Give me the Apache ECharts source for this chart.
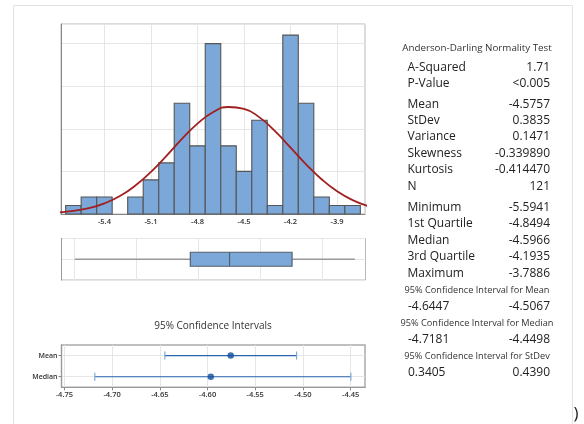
<!DOCTYPE html>
<html>
<head>
<meta charset="utf-8">
<script src="https://cdn.jsdelivr.net/npm/echarts@6/dist/echarts.min.js"></script>
<style>
html,body{margin:0;padding:0;background:#fff;}
#c{width:584px;height:424px;}
</style>
</head>
<body>
<div id="c"></div>
<script>
// ---- Data ----
const binCenters = [-5.6,-5.5,-5.4,-5.3,-5.2,-5.1,-5.0,-4.9,-4.8,-4.7,-4.6,-4.5,-4.4,-4.3,-4.2,-4.1,-4.0,-3.9,-3.8];
const binCounts  = [1,2,2,0,2,4,6,13,8,20,8,5,11,1,21,13,2,1,1];
const binWidth = 0.1;
const histTicks = [-5.4,-5.1,-4.8,-4.5,-4.2,-3.9];
// fitted normal curve
const curveX = [-5.7,-5.6,-5.5,-5.4,-5.3,-5.2,-5.1,-5.0,-4.9,-4.8,-4.7,-4.6,-4.5,-4.4,-4.3,-4.2,-4.1,-4.0,-3.9,-3.8,-3.7];
const curveY = [0.17,0.36,0.69,1.25,2.11,3.35,4.94,6.83,8.81,10.61,11.95,12.56,12.35,11.34,9.72,7.79,5.83,4.08,2.67,1.63,0.93];
// box plot: min, Q1, median, Q3, max
const boxStats = [-5.5941,-4.8494,-4.5966,-4.1935,-3.7886];
const boxGridTicks = [-5.6,-5.2,-4.8,-4.4,-4.0];
// confidence intervals
const ciNames = ['Mean','Median'];
const ciCenter = [-4.5757,-4.5966];
const ciLow = [-4.6447,-4.7181];
const ciHigh = [-4.5067,-4.4498];
const ciTicks = [-4.75,-4.70,-4.65,-4.60,-4.55,-4.50,-4.45];
// statistics table
const adTitle = 'Anderson-Darling Normality Test';
const statNames = ['A-Squared','P-Value','Mean','StDev','Variance','Skewness','Kurtosis','N','Minimum','1st Quartile','Median','3rd Quartile','Maximum'];
const statValues = ['1.71','<0.005','-4.5757','0.3835','0.1471','-0.339890','-0.414470','121','-5.5941','-4.8494','-4.5966','-4.1935','-3.7886'];
const ciTitles = ['95% Confidence Interval for Mean','95% Confidence Interval for Median','95% Confidence Interval for StDev'];
const ciTableLow = ['-4.6447','-4.7181','0.3405'];
const ciTableHigh = ['-4.5067','-4.4498','0.4390'];
const ciChartTitle = '95% Confidence Intervals';

// ---- Layout / style ----
const FONT = '"Open Sans", "Noto Sans", sans-serif';
const BLUE = '#7BA7D9';
const statY = [68, 83.5, 104.5, 120.5, 137, 153.5, 170, 186.5, 207.5, 224, 240.5, 257, 273.5];
const ciTitleY = [290, 323, 356];
const ciValY = [306.5, 339.5, 373];

const chart = echarts.init(document.getElementById('c'), null, {renderer:'canvas'});

const graphics = [];
graphics.push({type:'rect', silent:true, shape:{x:13.5, y:5.5, width:559, height:430}, style:{fill:'none', stroke:'#e2e2e2', lineWidth:1}});
graphics.push({type:'text', style:{text:adTitle, x:477, y:48, fontSize:9.8, fontFamily:FONT, fill:'#333', textAlign:'center', textVerticalAlign:'middle'}});
statNames.forEach((n,i)=>{
  graphics.push({type:'text', style:{text:n, x:407.5, y:statY[i], fontSize:12, fontFamily:FONT, fill:'#222', textVerticalAlign:'middle'}});
  graphics.push({type:'text', style:{text:statValues[i], x:550, y:statY[i], fontSize:12, fontFamily:FONT, fill:'#222', textAlign:'right', textVerticalAlign:'middle'}});
});
ciTitles.forEach((t,i)=>{
  graphics.push({type:'text', style:{text:t, x:477, y:ciTitleY[i], fontSize:9.2, fontFamily:FONT, fill:'#333', textAlign:'center', textVerticalAlign:'middle'}});
  graphics.push({type:'text', style:{text:ciTableLow[i], x:408, y:ciValY[i], fontSize:12, fontFamily:FONT, fill:'#222', textVerticalAlign:'middle'}});
  graphics.push({type:'text', style:{text:ciTableHigh[i], x:550, y:ciValY[i], fontSize:12, fontFamily:FONT, fill:'#222', textAlign:'right', textVerticalAlign:'middle'}});
});
graphics.push({type:'text', style:{text:ciChartTitle, x:213, y:326, fontSize:10, fontFamily:FONT, fill:'#333', textAlign:'center', textVerticalAlign:'middle'}});
graphics.push({type:'text', style:{text:')', x:576, y:414, fontSize:17, fontFamily:FONT, fill:'#222', textAlign:'center', textVerticalAlign:'middle'}});

const gridLine = {show:true, lineStyle:{color:'#e6e6e6', width:1}};
const tickFont = {fontSize:7.5, fontFamily:FONT, color:'#333', fontWeight:600};

const option = {
  animation:false,
  backgroundColor:'#fff',
  grid:[
    {left:61, top:24, width:304, height:190, show:true, borderColor:'#b8b8b8', borderWidth:1, backgroundColor:'#fff'},
    {left:61.5, top:238.5, width:304, height:41.5, show:true, borderColor:'#b8b8b8', borderWidth:1},
    {left:61.5, top:345, width:303.5, height:42.3, show:true, borderColor:'#aaaaaa', borderWidth:1.5}
  ],
  xAxis:[
    {gridIndex:0, type:'value', min:-5.68, max:-3.72,
     axisLine:{show:true, lineStyle:{color:'#888'}},
     axisTick:{show:false, customValues:histTicks},
     axisLabel:Object.assign({customValues:histTicks, margin:4}, tickFont),
     splitLine:gridLine},
    {gridIndex:1, type:'value', min:-5.68, max:-3.72,
     axisLine:{show:false}, axisTick:{show:false, customValues:boxGridTicks},
     axisLabel:{show:false, customValues:boxGridTicks}, splitLine:gridLine},
    {gridIndex:2, type:'value', min:-4.753, max:-4.435,
     axisLine:{show:true, lineStyle:{color:'#999'}},
     axisTick:{show:true, length:3, customValues:ciTicks, lineStyle:{color:'#888'}},
     axisLabel:Object.assign({customValues:ciTicks, margin:4, formatter:v=>v.toFixed(2)}, tickFont),
     splitLine:gridLine}
  ],
  yAxis:[
    {gridIndex:0, type:'value', min:0, max:22.3, interval:5,
     axisLine:{show:true, lineStyle:{color:'#888'}}, axisTick:{show:false}, axisLabel:{show:false}, splitLine:gridLine},
    {gridIndex:1, type:'value', min:0, max:2, interval:1,
     axisLine:{show:true, lineStyle:{color:'#999'}}, axisTick:{show:false}, axisLabel:{show:false}, splitLine:gridLine},
    {gridIndex:2, type:'value', min:0.5, max:2.5,
     axisLine:{show:true, lineStyle:{color:'#999'}},
     axisTick:{show:true, length:3, customValues:[1,2], lineStyle:{color:'#888'}},
     axisLabel:Object.assign({customValues:[1,2], margin:4, formatter:v=>ciNames[2-Math.round(v)]}, tickFont, {fontSize:7}),
     splitLine:gridLine}
  ],
  series:[
    {type:'custom', xAxisIndex:0, yAxisIndex:0,
     data: binCenters.map((c,i)=>[c, binCounts[i]]),
     renderItem:(params, api)=>{
       const x = api.value(0), n = api.value(1);
       if(!n) return null;
       const p0 = api.coord([x-binWidth/2, n]);
       const p1 = api.coord([x+binWidth/2, 0]);
       return {type:'rect', shape:{x:p0[0], y:p0[1], width:p1[0]-p0[0], height:p1[1]-p0[1]},
               style:{fill:BLUE, stroke:'#555', lineWidth:1.1}};
     }},
    {type:'line', xAxisIndex:0, yAxisIndex:0, smooth:true, symbol:'none', clip:true,
     data: curveX.map((x,i)=>[x, curveY[i]]),
     lineStyle:{color:'#A11F1F', width:1.8}},
    {type:'custom', xAxisIndex:1, yAxisIndex:1,
     data:[boxStats.concat([1])],
     renderItem:(params, api)=>{
       const y = api.coord([0, api.value(5)])[1];
       const pMin = api.coord([api.value(0), 1])[0];
       const pQ1 = api.coord([api.value(1), 1])[0];
       const pMed = api.coord([api.value(2), 1])[0];
       const pQ3 = api.coord([api.value(3), 1])[0];
       const pMax = api.coord([api.value(4), 1])[0];
       const h = 7;
       return {type:'group', children:[
         {type:'line', shape:{x1:pMin, y1:y, x2:pQ1, y2:y}, style:{stroke:'#999', lineWidth:1.3}},
         {type:'line', shape:{x1:pQ3, y1:y, x2:pMax, y2:y}, style:{stroke:'#999', lineWidth:1.3}},
         {type:'rect', shape:{x:pQ1, y:y-h, width:pQ3-pQ1, height:2*h}, style:{fill:BLUE, stroke:'#56606c', lineWidth:1.2}},
         {type:'line', shape:{x1:pMed, y1:y-h, x2:pMed, y2:y+h}, style:{stroke:'#56606c', lineWidth:1.2}}
       ]};
     }},
    {type:'custom', xAxisIndex:2, yAxisIndex:2,
     data: ciNames.map((n,i)=>[ciLow[i], ciHigh[i], 2-i]),
     renderItem:(params, api)=>{
       const a = api.coord([api.value(0), api.value(2)]);
       const b = api.coord([api.value(1), api.value(2)]);
       const c = 4;
       return {type:'group', children:[
         {type:'line', shape:{x1:a[0], y1:a[1], x2:b[0], y2:b[1]}, style:{stroke:'#2A66AE', lineWidth:1.2}},
         {type:'line', shape:{x1:a[0], y1:a[1]-c, x2:a[0], y2:a[1]+c}, style:{stroke:'#7FA8DA', lineWidth:1.2}},
         {type:'line', shape:{x1:b[0], y1:b[1]-c, x2:b[0], y2:b[1]+c}, style:{stroke:'#7FA8DA', lineWidth:1.2}}
       ]};
     }},
    {type:'scatter', xAxisIndex:2, yAxisIndex:2, symbol:'circle', symbolSize:6.5,
     data: ciNames.map((n,i)=>[ciCenter[i], 2-i]),
     itemStyle:{color:'#0D4E9E'}}
  ],
  graphic: graphics
};
chart.setOption(option);
</script>
</body>
</html>
